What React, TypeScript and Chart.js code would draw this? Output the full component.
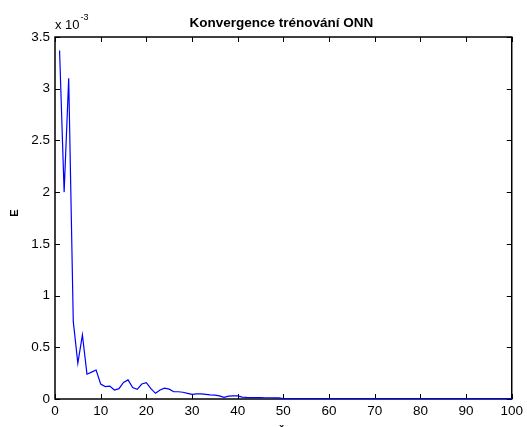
import React, { useEffect, useRef } from "react";
import { Chart, registerables } from "chart.js";

Chart.register(...registerables);

const titleText = "Konvergence trénování ONN";
const yAxisTitle = "E";
const xAxisTitle = "Č";
const exponentLabel = "x 10";
const exponentPower = "-3";

const xTicks = [0, 10, 20, 30, 40, 50, 60, 70, 80, 90, 100];
const yTicks = [0, 0.5e-3, 1e-3, 1.5e-3, 2e-3, 2.5e-3, 3e-3, 3.5e-3];

const epochs = [
  1, 2, 3, 4, 5, 6, 7, 8, 9, 10,
  11, 12, 13, 14, 15, 16, 17, 18, 19, 20,
  21, 22, 23, 24, 25, 26, 27, 28, 29, 30,
  31, 32, 33, 34, 35, 36, 37, 38, 39, 40,
  41, 42, 43, 44, 45, 46, 47, 48, 49, 50,
  51, 52, 53, 54, 55, 56, 57, 58, 59, 60,
  61, 62, 63, 64, 65, 66, 67, 68, 69, 70,
  71, 72, 73, 74, 75, 76, 77, 78, 79, 80,
  81, 82, 83, 84, 85, 86, 87, 88, 89, 90,
  91, 92, 93, 94, 95, 96, 97, 98, 99, 100,
];

// error values in units of 1e-3
const errorMilli = [
  3.37, 2.0, 3.1, 0.75, 0.345, 0.62, 0.24, 0.26, 0.28, 0.145,
  0.12, 0.125, 0.087, 0.1, 0.16, 0.185, 0.11, 0.094, 0.145, 0.158,
  0.1, 0.055, 0.087, 0.105, 0.095, 0.07, 0.07, 0.065, 0.055, 0.045,
  0.05, 0.05, 0.045, 0.04, 0.038, 0.03, 0.016, 0.028, 0.03, 0.03,
  0.018, 0.015, 0.014, 0.013, 0.013, 0.012, 0.012, 0.011, 0.011, 0.004,
  0.004, 0.004, 0.004, 0.004, 0.004, 0.004, 0.004, 0.004, 0.004, 0.004,
  0.004, 0.004, 0.004, 0.004, 0.004, 0.004, 0.004, 0.004, 0.004, 0.004,
  0.004, 0.004, 0.004, 0.004, 0.004, 0.004, 0.004, 0.004, 0.004, 0.004,
  0.004, 0.004, 0.004, 0.004, 0.004, 0.004, 0.004, 0.004, 0.004, 0.004,
  0.004, 0.004, 0.004, 0.004, 0.004, 0.004, 0.004, 0.004, 0.004, 0.004,
];

const FONT = "'Liberation Sans', Arial, Helvetica, sans-serif";

const boxPlugin = {
  id: "matlabBox",
  beforeDatasetsDraw(chart: any) {
    const { ctx, chartArea, scales } = chart;
    const { left, right, top, bottom } = chartArea;
    ctx.save();
    ctx.strokeStyle = "#000";
    ctx.lineWidth = 1;
    const tl = 5;
    ctx.beginPath();
    for (const v of xTicks) {
      const px = Math.round(scales.x.getPixelForValue(v)) + 0.5;
      ctx.moveTo(px, bottom);
      ctx.lineTo(px, bottom - tl);
      ctx.moveTo(px, top);
      ctx.lineTo(px, top + tl);
    }
    for (const v of yTicks) {
      const py = Math.round(scales.y.getPixelForValue(v)) + 0.5;
      ctx.moveTo(left, py);
      ctx.lineTo(left + tl, py);
      ctx.moveTo(right, py);
      ctx.lineTo(right - tl, py);
    }
    ctx.stroke();
    ctx.lineWidth = 1.5;
    ctx.strokeRect(left, top, right - left, bottom - top);
    ctx.restore();
  },
  afterDraw(chart: any) {
    const { ctx, chartArea } = chart;
    const { left, right, top, bottom } = chartArea;
    const cx = (left + right) / 2;
    ctx.save();
    ctx.fillStyle = "#000";
    ctx.textBaseline = "alphabetic";
    // title
    ctx.font = `bold 13.5px ${FONT}`;
    ctx.textAlign = "center";
    ctx.fillText(titleText, cx - 2, 27);
    // exponent
    ctx.font = `13px ${FONT}`;
    ctx.textAlign = "left";
    ctx.fillText(exponentLabel, left, 29);
    const w = ctx.measureText(exponentLabel).width;
    ctx.font = `9px ${FONT}`;
    ctx.fillText(exponentPower, left + w + 1, 20);
    // x axis title (mostly cut off)
    ctx.font = `bold 12px ${FONT}`;
    ctx.textAlign = "center";
    ctx.fillText(xAxisTitle, cx - 2, bottom + 38);
    // y axis title
    ctx.translate(15, (top + bottom) / 2 - 5);
    ctx.rotate(-Math.PI / 2);
    ctx.textAlign = "center";
    ctx.textBaseline = "middle";
    ctx.font = `bold 11px ${FONT}`;
    ctx.fillText(yAxisTitle, 0, 0);
    ctx.restore();
  },
};

export default function App() {
  const ref = useRef<HTMLCanvasElement>(null);
  useEffect(() => {
    if (!ref.current) return;
    const points = epochs.map((x, i) => ({ x, y: errorMilli[i] * 1e-3 }));
    const chart = new Chart(ref.current, {
      type: "line",
      data: {
        datasets: [
          {
            data: points,
            borderColor: "#0000ff",
            borderWidth: 1.2,
            pointRadius: 0,
            tension: 0,
            fill: false,
          },
        ],
      },
      options: {
        animation: false,
        responsive: false,
        devicePixelRatio: 1,
        layout: { padding: { top: 37, right: 12, left: 0, bottom: 0 } },
        plugins: {
          legend: { display: false },
          title: { display: false },
          tooltip: { enabled: false },
        },
        scales: {
          x: {
            type: "linear",
            min: 0,
            max: 100,
            afterFit(scale: any) {
              scale.height = 28;
            },
            afterBuildTicks(scale: any) {
              scale.ticks = xTicks.map((v) => ({ value: v }));
            },
            grid: { display: false, drawTicks: false },
            border: { display: false },
            ticks: {
              padding: 4,
              color: "#000",
              font: { family: FONT, size: 13.5 },
              maxRotation: 0,
              autoSkip: false,
              callback: (v: any) => String(v),
            },
          },
          y: {
            type: "linear",
            min: 0,
            max: 3.5e-3,
            afterFit(scale: any) {
              scale.width = 55;
            },
            afterBuildTicks(scale: any) {
              scale.ticks = yTicks.map((v) => ({ value: v }));
            },
            grid: { display: false, drawTicks: false },
            border: { display: false },
            ticks: {
              padding: 5,
              color: "#000",
              font: { family: FONT, size: 13.5 },
              autoSkip: false,
              callback: (v: any) => String(Math.round((v as number) * 1e4) / 10),
            },
          },
        },
      },
      plugins: [boxPlugin],
    });
    return () => chart.destroy();
  }, []);
  return (
    <div style={{ position: "fixed", left: 0, top: 0, width: 527, height: 427, background: "#fff" }}>
      <canvas ref={ref} width={527} height={427} style={{ display: "block" }} />
    </div>
  );
}
